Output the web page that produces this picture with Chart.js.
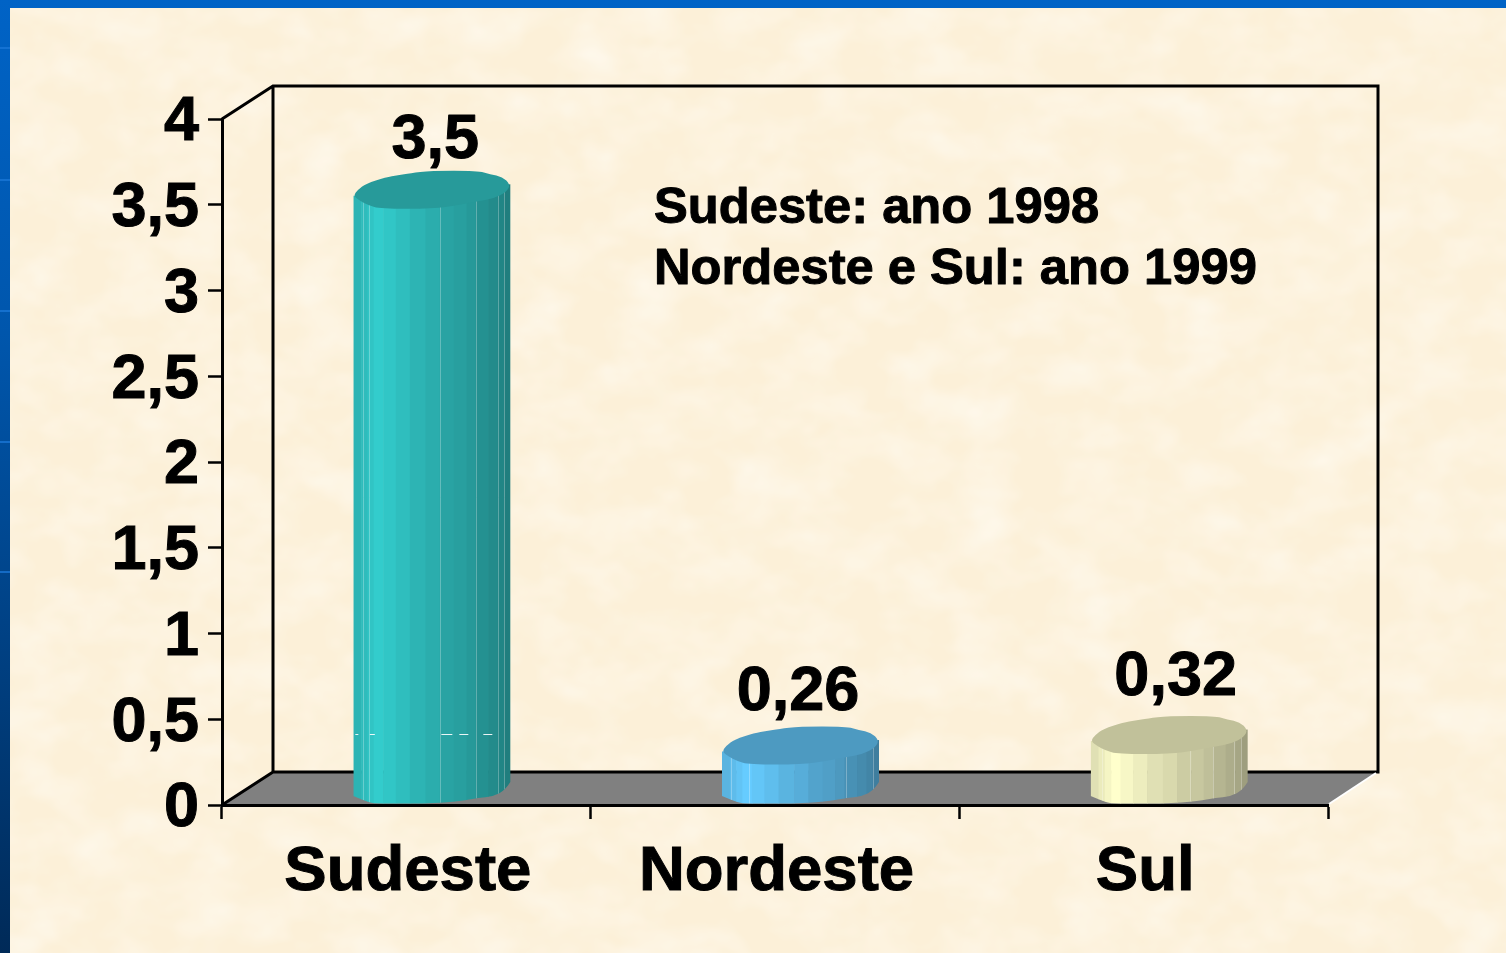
<!DOCTYPE html>
<html lang="pt">
<head>
<meta charset="utf-8">
<title>Sudeste, Nordeste, Sul</title>
<style>
html,body{margin:0;padding:0;width:1506px;height:953px;overflow:hidden;background:#fdf2dc}
#frame{position:absolute;left:0;top:0;width:1506px;height:953px;background:linear-gradient(180deg,#0063c6 0%,#0056ac 35%,#003f80 70%,#002a58 100%)}
.streak{position:absolute;left:0;width:10px;height:2px;background:#1b78d8;opacity:.75}
#panel{position:absolute;left:10px;top:8px;width:1496px;height:945px;overflow:hidden;background:#fdf2dc;box-shadow:inset 3px 2px 0 #fff6e6}
#panel svg{position:absolute;left:0;top:0}
canvas{position:absolute;left:0;top:0}
</style>
<script src="https://cdn.jsdelivr.net/npm/chart.js@4"></script>
</head>
<body>
<div id="frame">
  <div class="streak" style="top:47px"></div>
  <div class="streak" style="top:179px"></div>
  <div class="streak" style="top:310px"></div>
  <div class="streak" style="top:441px"></div>
  <div class="streak" style="top:571px"></div>
</div>
<div id="panel">
  <svg width="1496" height="945" xmlns="http://www.w3.org/2000/svg">
    <filter id="paper" x="0" y="0" width="100%" height="100%">
      <feTurbulence type="fractalNoise" baseFrequency="0.018 0.026" numOctaves="3" seed="7"/>
      <feColorMatrix type="matrix" values="0 0 0 0 0.995  0 0 0 0 0.955  0 0 0 0 0.87  0.9 0.9 0 0 -0.72"/>
    </filter>
    <rect width="1496" height="945" fill="#fcf0d8"/>
    <rect width="1496" height="945" filter="url(#paper)"/>
  </svg>
</div>
<canvas id="c" width="1506" height="953"></canvas>
<script>
const categories = ['Sudeste', 'Nordeste', 'Sul'];
const values = [3.5, 0.26, 0.32];
const yTicks = [0, 0.5, 1, 1.5, 2, 2.5, 3, 3.5, 4];
const noteLines = ['Sudeste: ano 1998', 'Nordeste e Sul: ano 1999'];
const baseColors = ['#33cccc', '#66ccff', '#ffffcc'];

const FONT = '"Liberation Sans", Arial, sans-serif';
const depth = { x: 51, y: -33 };
const labelNudge = [[3.5, -47], [-2.5, -50], [6.5, -55]];
const seams = [
  [.06, .10, .55, .78, .92, .96],
  [.06, .17, .79, .96],
  [.07, .63, .78, .91, .96]
];
const facetStops = [0, .05, .09, .13, .19, .27, .36, .46, .55, .64, .72, .78, .86, .92, .96, 1];
const facetShade = [.88, .92, .96, 1, .97, .93, .88, .85, .80, .78, .75, .71, .68, .65, .62];
const capOutline = [[-78.5,6],[-74,0],[-66,-6],[-46,-12.5],[-34,-14.5],[-21.5,-16.5],[-1.5,-19],[45.5,-19],[58.5,-15.5],[70.5,-13],[78.5,-5.5],[75,2],[61.5,9],[45.5,11.5],[25.5,15.5],[1.5,19],[-51.5,19],[-63.5,15.5],[-72,11]];
const footOutline = [[78.5,-6],[73.5,2],[61.5,8.5],[45.5,10],[35.5,12],[5.5,15.5],[-51.5,15.5],[-61.5,15],[-78.5,8]];
const gridDashes = [[-76.5,-73.5],[-62,-57],[9.5,20.5],[27.5,36.5],[51.5,60.5]];

function shade(hex, k) {
  const n = parseInt(hex.slice(1), 16);
  const c = s => Math.round(((n >> s) & 255) * k);
  return `rgb(${c(16)},${c(8)},${c(0)})`;
}

function smoothClosed(path, pts) {
  const mid = (a, b) => [(a[0] + b[0]) / 2, (a[1] + b[1]) / 2];
  const start = mid(pts[pts.length - 1], pts[0]);
  path.moveTo(start[0], start[1]);
  pts.forEach((p, i) => {
    const m = mid(p, pts[(i + 1) % pts.length]);
    path.quadraticCurveTo(p[0], p[1], m[0], m[1]);
  });
  path.closePath();
}

function boldText(ctx, text, x, y) {
  ctx.lineWidth = 1;
  ctx.strokeStyle = '#000';
  ctx.lineJoin = 'round';
  ctx.strokeText(text, x, y);
  ctx.fillText(text, x, y);
}

const stagePlugin = {
  id: 'stage',
  beforeDraw(chart) {
    const { ctx, chartArea: a } = chart;
    ctx.save();
    ctx.fillStyle = '#808080';
    ctx.beginPath();
    ctx.moveTo(a.left, a.bottom);
    ctx.lineTo(a.left + depth.x, a.bottom + depth.y);
    ctx.lineTo(a.right + depth.x - 1, a.bottom + depth.y);
    ctx.lineTo(a.right, a.bottom);
    ctx.closePath();
    ctx.fill();
    ctx.strokeStyle = '#000';
    ctx.lineWidth = 3;
    ctx.lineJoin = 'miter';
    ctx.beginPath();
    ctx.moveTo(a.left, a.top);
    ctx.lineTo(a.left + depth.x, a.top + depth.y);
    ctx.lineTo(a.right + depth.x - 1, a.top + depth.y);
    ctx.lineTo(a.right + depth.x - 1, a.bottom + depth.y);
    ctx.lineTo(a.left + depth.x, a.bottom + depth.y);
    ctx.lineTo(a.left + depth.x, a.top + depth.y);
    ctx.moveTo(a.left + depth.x, a.bottom + depth.y);
    ctx.lineTo(a.left, a.bottom);
    ctx.stroke();
    ctx.strokeStyle = '#fff';
    ctx.lineWidth = 2;
    ctx.beginPath();
    ctx.moveTo(a.right + 1, a.bottom - 1);
    ctx.lineTo(a.right + depth.x - 3, a.bottom + depth.y + 1);
    ctx.stroke();
    ctx.restore();
  },
  beforeDatasetDraw(chart, args) {
    const { ctx } = chart;
    const meta = chart.getDatasetMeta(args.index);
    meta.data.forEach((el, i) => {
      const w = el.width, left = el.x + depth.x / 2 - w / 2;
      const cx = el.x + depth.x / 2, top = el.y + depth.y / 2 + 1.5, bot = el.base + depth.y / 2;
      const k = w / 157;
      const color = baseColors[i];

      const capPath = new Path2D();
      smoothClosed(capPath, capOutline.map(p => [cx + p[0] * k, top + p[1]]));

      const body = new Path2D();
      const bodyPts = [
        [cx + capOutline[0][0] * k, top + capOutline[0][1]],
        [cx + capOutline[10][0] * k, top + capOutline[10][1]]
      ].concat(footOutline.map(p => [cx + p[0] * k, bot + p[1]]));
      body.moveTo(bodyPts[0][0], bodyPts[0][1]);
      body.lineTo(bodyPts[1][0], bodyPts[1][1]);
      body.lineTo(bodyPts[2][0], bodyPts[2][1]);
      for (let n = 3; n < bodyPts.length - 1; n++) {
        const a = bodyPts[n], b = bodyPts[n + 1];
        body.quadraticCurveTo(a[0], a[1], (a[0] + b[0]) / 2, (a[1] + b[1]) / 2);
      }
      const last = bodyPts[bodyPts.length - 1];
      body.lineTo(last[0], last[1]);
      body.closePath();

      ctx.save();
      ctx.clip(body);
      facetShade.forEach((s, n) => {
        const x0 = left + facetStops[n] * w, x1 = left + facetStops[n + 1] * w;
        ctx.fillStyle = shade(color, s);
        ctx.fillRect(x0, top - 30, x1 - x0 + 0.6, bot - top + 60);
      });
      ctx.strokeStyle = 'rgba(255,255,255,.28)';
      ctx.lineWidth = 1;
      seams[i].forEach(f => {
        const x = Math.round(left + f * w) + .5;
        ctx.beginPath();
        ctx.moveTo(x, top);
        ctx.lineTo(x, bot + 20);
        ctx.stroke();
      });
      if (i === 0) {
        ctx.strokeStyle = '#fff';
        ctx.globalAlpha = .9;
        gridDashes.forEach(d => {
          ctx.beginPath();
          ctx.moveTo(cx + d[0], bot - 53.5);
          ctx.lineTo(cx + d[1], bot - 53.5);
          ctx.stroke();
        });
        ctx.globalAlpha = 1;
      }
      ctx.restore();
      ctx.fillStyle = shade(color, .755);
      ctx.fill(capPath);

      ctx.save();
      ctx.fillStyle = '#000';
      ctx.font = 'bold 63px ' + FONT;
      ctx.textAlign = 'center';
      ctx.textBaseline = 'alphabetic';
      boldText(ctx, String(values[i]).replace('.', ','), el.x + depth.x / 2 + labelNudge[i][0], el.y + labelNudge[i][1]);
      ctx.restore();
    });
    return false;
  },
  afterDraw(chart) {
    const { ctx, chartArea: a } = chart;
    ctx.save();
    ctx.fillStyle = '#000';
    ctx.font = 'bold 50.7px ' + FONT;
    ctx.textAlign = 'left';
    ctx.textBaseline = 'alphabetic';
    boldText(ctx, noteLines[0], a.left + 432, a.top + 104);
    boldText(ctx, noteLines[1], a.left + 432, a.top + 165);
    ctx.restore();
  }
};

new Chart(document.getElementById('c'), {
  type: 'bar',
  data: {
    labels: categories,
    datasets: [{ data: values, backgroundColor: baseColors, barThickness: 157 }]
  },
  plugins: [stagePlugin],
  options: {
    responsive: false,
    animation: false,
    events: [],
    layout: { autoPadding: false, padding: { left: 0, top: 119, right: 178, bottom: 0 } },
    plugins: { legend: { display: false }, tooltip: { enabled: false }, title: { display: false } },
    scales: {
      x: {
        afterFit(s) { s.height = 148; },
        grid: { drawOnChartArea: false, drawTicks: true, tickLength: 14, tickWidth: 2.5, tickColor: '#000', offset: true },
        border: { color: '#000', width: 3 },
        ticks: { color: '#000', padding: 15, labelOffset: 1.5, maxRotation: 0, textStrokeColor: '#000', textStrokeWidth: 1, font: { family: FONT, weight: 'bold', size: 63.5 } }
      },
      y: {
        min: 0,
        max: 4,
        afterFit(s) { s.width = 222; },
        afterBuildTicks(s) { s.ticks = yTicks.map(v => ({ value: v })); },
        grid: { drawOnChartArea: false, drawTicks: true, tickLength: 14, tickWidth: 2.5, tickColor: '#000' },
        border: { color: '#000', width: 3 },
        ticks: {
          color: '#000',
          padding: 9,
          labelOffset: 4,
          textStrokeColor: '#000',
          textStrokeWidth: 1,
          font: { family: FONT, weight: 'bold', size: 63 },
          callback: v => String(v).replace('.', ',')
        }
      }
    }
  }
});
</script>
</body>
</html>
